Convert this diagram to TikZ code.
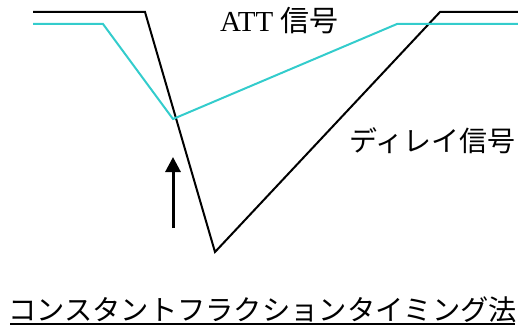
\documentclass[tikz,border=0pt]{standalone}
\usepackage{fontspec}
\setmainfont{Liberation Serif}
\newfontfamily\jp{Noto Sans CJK JP}
\usetikzlibrary{arrows.meta}
\definecolor{sigcyan}{RGB}{51,204,204}
\tikzset{
  sig/.style={line width=2pt, line join=miter},
  lbl/.style={inner sep=0pt, font=\fontsize{28}{30}\selectfont},
}
\begin{document}
\begin{tikzpicture}[x=1pt,y=-1pt]
\useasboundingbox (0,0) rectangle (518,326);
% black (delay) signal
\coordinate (b0) at (33,12);
\coordinate (b1) at (145,12);
\coordinate (b2) at (215,252);
\coordinate (b3) at (440,12);
\coordinate (b4) at (518,12);
\draw[sig] (b0) -- (b1) -- (b2) -- (b3) -- (b4);
% cyan (ATT) signal
\coordinate (c0) at (33,24);
\coordinate (c1) at (103,24);
\coordinate (c2) at (173,119);
\coordinate (c3) at (397,24);
\coordinate (c4) at (518,24);
\draw[sig, sigcyan] (c0) -- (c1) -- (c2) -- (c3) -- (c4);
% arrow
\coordinate (a0) at (173,228);
\coordinate (a1) at (173,157);
\draw[line width=3pt, -{Triangle[width=15pt,length=15pt]}] (a0) -- (a1);
% labels
\node[lbl, anchor=base west, font=\fontsize{29}{30}\selectfont] (att) at (220,32) {ATT {\jp 信号}};
\node[lbl, anchor=west] (dly) at (349,141) {\jp ディレイ信号};
\node[lbl, anchor=center, font=\fontsize{28.3}{30}\selectfont\jp] (bt) at (262.5,309.5) {コンスタントフラクションタイミング法};
\coordinate (u0) at (10,323.5);
\coordinate (u1) at (515,323.5);
\draw[line width=2pt] (u0) -- (u1);
\end{tikzpicture}
\end{document}
